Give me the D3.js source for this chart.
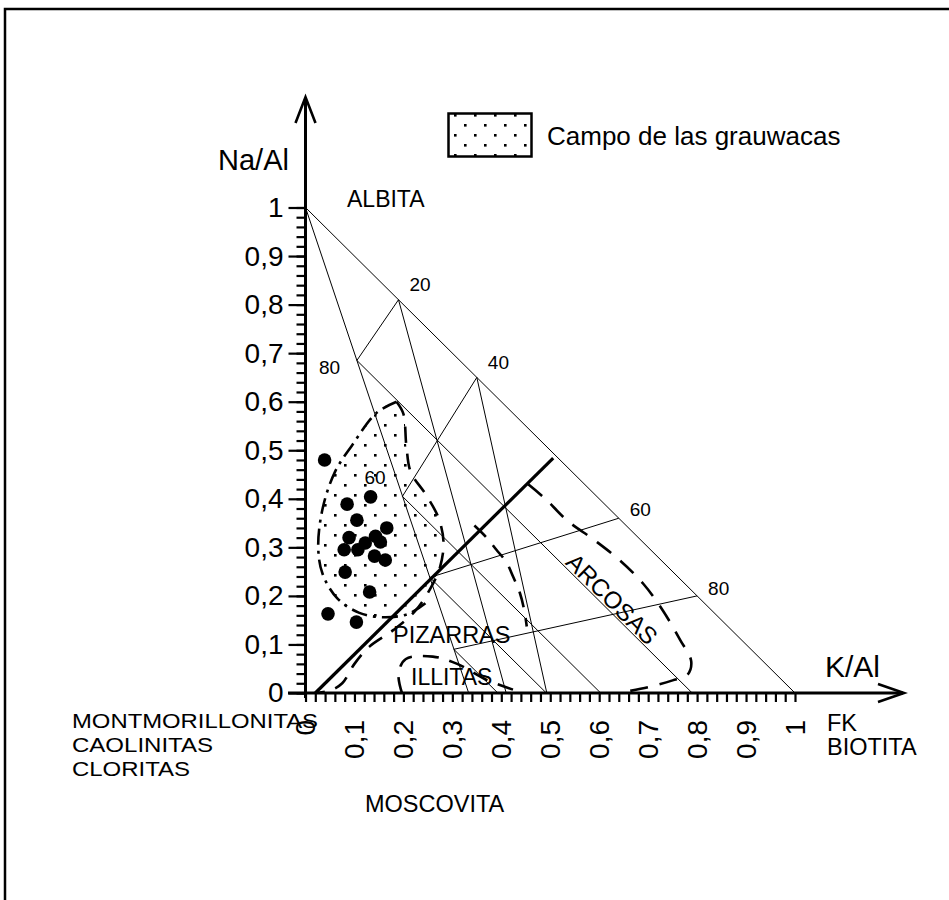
<!DOCTYPE html>
<html>
<head>
<meta charset="utf-8">
<script src="https://cdn.jsdelivr.net/npm/d3@7"></script>
<style>
  body { margin: 0; background: #fff; }
  text { font-family: "Liberation Sans", Arial, Helvetica, sans-serif; fill: #000; }
</style>
</head>
<body>
<div id="chart"></div>
<script>
// axis ticks
const tickValues = d3.range(0, 11).map(i => i / 10);
const tickLabels = ['0', '0,1', '0,2', '0,3', '0,4', '0,5', '0,6', '0,7', '0,8', '0,9', '1'];
const minorTickValues = d3.range(0, 51).map(i => i / 50);

// grid nodes on albita-FK side (labelled 20..80) and on albita-moscovita side
const nodesAF = [[0.19, 0.81], [0.35, 0.65], [0.64, 0.36], [0.80, 0.20]];
const nodesAFLabels = ['20', '40', '60', '80'];
const nodesAM = [[0.105, 0.685], [0.198, 0.405], [0.254, 0.238], [0.303, 0.09]];
const nodesAMLabels = ['80', '60'];

// thin grid segments [x1, y1, x2, y2]
const gridSegments = [
  [0, 1, 1, 0],
  [0, 1, 1 / 3, 0],
  [0.19, 0.81, 0.105, 0.685],
  [0.35, 0.65, 0.198, 0.405],
  [0.64, 0.36, 0.254, 0.238],
  [0.80, 0.20, 0.303, 0.09],
  [0.19, 0.81, 0.41, 0],
  [0.35, 0.65, 0.493, 0],
  [0.105, 0.685, 0.79, 0],
  [0.198, 0.405, 0.603, 0],
  [0.254, 0.238, 0.492, 0],
  [0.303, 0.09, 0.393, 0]
];
// thick separation line
const thickSegment = [0.02, 0, 0.506, 0.484];

// samples (K/Al, Na/Al)
const sampleK = [0.039, 0.085, 0.133, 0.105, 0.166, 0.089, 0.079, 0.107, 0.122, 0.143, 0.153, 0.141, 0.163, 0.081, 0.131, 0.046, 0.104];
const sampleNa = [0.480, 0.389, 0.404, 0.356, 0.340, 0.320, 0.295, 0.295, 0.309, 0.323, 0.311, 0.282, 0.274, 0.249, 0.208, 0.163, 0.146];

// field outlines
const grauwDashDot = [[0.245, 0.185], [0.21, 0.163], [0.16, 0.156], [0.11, 0.165], [0.065, 0.195], [0.035, 0.245], [0.026, 0.30], [0.035, 0.38], [0.06, 0.455], [0.095, 0.51], [0.145, 0.577], [0.186, 0.60]];
const pizarrasDashed = [[0.186, 0.60], [0.2, 0.575], [0.206, 0.51], [0.215, 0.455], [0.245, 0.41], [0.272, 0.36], [0.282, 0.31], [0.275, 0.26], [0.255, 0.215], [0.225, 0.17], [0.18, 0.13], [0.13, 0.095], [0.1, 0.06], [0.075, 0.02], [0.05, 0.005], [0.02, 0]];
const arcosasDashed = [[0.455, 0.43], [0.49, 0.40], [0.535, 0.355], [0.59, 0.315], [0.64, 0.275], [0.69, 0.225], [0.73, 0.17], [0.765, 0.11], [0.788, 0.065], [0.78, 0.037], [0.75, 0.026], [0.70, 0.012], [0.64, 0]];
const innerDashed = [[0.345, 0.345], [0.37, 0.32], [0.39, 0.295], [0.41, 0.27], [0.424, 0.24], [0.438, 0.206], [0.447, 0.17], [0.452, 0.137]];
const illitasDashed = [[0.197, 0], [0.19, 0.04], [0.205, 0.07], [0.26, 0.075], [0.31, 0.06], [0.37, 0.027], [0.445, 0]];

// clay minerals at the origin
const clayNames = ['MONTMORILLONITAS', 'CAOLINITAS', 'CLORITAS'];

const W = 949, H = 900;
const x = d3.scaleLinear().domain([0, 1]).range([305.5, 795]);
const y = d3.scaleLinear().domain([0, 1]).range([693, 207.5]);

const svg = d3.select('#chart').append('svg')
  .attr('width', W)
  .attr('height', H);

// frame
svg.append('path')
  .attr('d', `M5,${H}V9H${W}`)
  .attr('fill', 'none')
  .attr('stroke', '#000')
  .attr('stroke-width', 2.5);

const defs = svg.append('defs');
const pat = defs.append('pattern')
  .attr('id', 'dots')
  .attr('patternUnits', 'userSpaceOnUse')
  .attr('width', 20)
  .attr('height', 20);
pat.append('rect').attr('x', 4).attr('y', 4).attr('width', 2.6).attr('height', 2.6).attr('fill', '#000');
pat.append('rect').attr('x', 14).attr('y', 14).attr('width', 2.6).attr('height', 2.6).attr('fill', '#000');

const line = d3.line()
  .x(d => x(d[0]))
  .y(d => y(d[1]))
  .curve(d3.curveCatmullRom.alpha(0.5));

// dotted grauwacas field
const fieldIdx = pizarrasDashed.findIndex(d => d[0] === 0.255);
svg.append('path')
  .attr('d', line(grauwDashDot.concat(pizarrasDashed.slice(1, fieldIdx + 1))) + 'Z')
  .attr('fill', 'url(#dots)')
  .attr('stroke', 'none');

// thin grid
svg.append('g')
  .selectAll('line')
  .data(gridSegments)
  .join('line')
  .attr('x1', d => x(d[0]))
  .attr('y1', d => y(d[1]))
  .attr('x2', d => x(d[2]))
  .attr('y2', d => y(d[3]))
  .attr('stroke', '#000')
  .attr('stroke-width', 1);

svg.append('line')
  .attr('x1', x(thickSegment[0]))
  .attr('y1', y(thickSegment[1]))
  .attr('x2', x(thickSegment[2]))
  .attr('y2', y(thickSegment[3]))
  .attr('stroke', '#000')
  .attr('stroke-width', 3.2);

// dashed outlines
const dashed = [
  [grauwDashDot, '16,6,3,6'],
  [pizarrasDashed, '16,11'],
  [arcosasDashed, '18,12'],
  [innerDashed, '16,11'],
  [illitasDashed, '16,11']
];
svg.append('g')
  .selectAll('path')
  .data(dashed)
  .join('path')
  .attr('d', d => line(d[0]))
  .attr('fill', 'none')
  .attr('stroke', '#000')
  .attr('stroke-width', 2.6)
  .attr('stroke-dasharray', d => d[1]);

// samples
svg.append('g')
  .selectAll('circle')
  .data(sampleK)
  .join('circle')
  .attr('cx', d => x(d))
  .attr('cy', (d, i) => y(sampleNa[i]))
  .attr('r', 6.8)
  .attr('fill', '#000');

// axes
const yMinor = svg.append('g')
  .attr('transform', `translate(${x(0)},0)`)
  .call(d3.axisLeft(y).tickValues(minorTickValues).tickSize(9).tickFormat(''));
const yMajor = svg.append('g')
  .attr('transform', `translate(${x(0)},0)`)
  .call(d3.axisLeft(y).tickValues(tickValues).tickSize(17).tickPadding(5)
    .tickFormat((d, i) => tickLabels[i]));
const xMinor = svg.append('g')
  .attr('transform', `translate(0,${y(0)})`)
  .call(d3.axisBottom(x).tickValues(minorTickValues).tickSize(9).tickFormat(''));
[yMinor, yMajor, xMinor].forEach(g => {
  g.select('.domain').remove();
  g.selectAll('.tick line').attr('stroke', '#000').attr('stroke-width', 2.2);
});
yMajor.selectAll('.tick text')
  .style('font-family', '"Liberation Sans", Arial, sans-serif')
  .style('font-size', '28px')
  .attr('fill', '#000');

svg.append('g')
  .selectAll('text')
  .data(tickValues)
  .join('text')
  .attr('transform', d => `translate(${x(d)},720) rotate(-90)`)
  .attr('text-anchor', 'end')
  .attr('dy', '0.35em')
  .style('font-size', '28px')
  .text((d, i) => tickLabels[i]);

// axis lines with arrows
svg.append('line')
  .attr('x1', x(0)).attr('y1', y(0) + 5)
  .attr('x2', x(0)).attr('y2', 98)
  .attr('stroke', '#000').attr('stroke-width', 3);
svg.append('path')
  .attr('d', `M${x(0) - 10},123L${x(0)},97L${x(0) + 10},123`)
  .attr('fill', 'none').attr('stroke', '#000').attr('stroke-width', 2.6);
svg.append('line')
  .attr('x1', 288).attr('y1', y(0))
  .attr('x2', 903).attr('y2', y(0))
  .attr('stroke', '#000').attr('stroke-width', 3);
svg.append('path')
  .attr('d', `M878,${y(0) - 9}L904,${y(0)}L878,${y(0) + 9}`)
  .attr('fill', 'none').attr('stroke', '#000').attr('stroke-width', 2.6);

// legend
svg.append('rect')
  .attr('x', 448.5).attr('y', 113.5)
  .attr('width', 83).attr('height', 43)
  .attr('fill', 'url(#dots)')
  .attr('stroke', '#000').attr('stroke-width', 2.5);
svg.append('text')
  .attr('x', 547).attr('y', 145)
  .style('font-size', '26px')
  .text('Campo de las grauwacas');

// annotations
const notes = [
  ['Na/Al', 218, 170, 29],
  ['K/Al', 825, 677, 30],
  ['ALBITA', 347, 207, 23],
  ['PIZARRAS', 393, 643, 23.5],
  ['ILLITAS', 411, 685, 23],
  ['FK', 827, 731, 23.5],
  ['BIOTITA', 827, 755, 23.5],
  ['MOSCOVITA', 365, 812, 23.5]
];
svg.append('g')
  .selectAll('text')
  .data(notes)
  .join('text')
  .attr('x', d => d[1])
  .attr('y', d => d[2])
  .style('font-size', d => d[3] + 'px')
  .text(d => d[0]);

// clay names: narrow lettering, stretched to the original widths
const clayWidths = [246, 141, 118];
svg.append('g')
  .selectAll('text')
  .data(clayNames)
  .join('text')
  .attr('x', 72)
  .attr('y', (d, i) => 728 + i * 24)
  .attr('textLength', (d, i) => clayWidths[i])
  .attr('lengthAdjust', 'spacingAndGlyphs')
  .style('font-size', '21px')
  .text(d => d);

// node labels
const afDy = [-9, -8, -2, -1];
svg.append('g')
  .selectAll('text')
  .data(nodesAF)
  .join('text')
  .attr('x', d => x(d[0]) + 11)
  .attr('y', (d, i) => y(d[1]) + afDy[i])
  .style('font-size', '19px')
  .text((d, i) => nodesAFLabels[i]);
svg.append('g')
  .selectAll('text')
  .data(nodesAM.slice(0, 2))
  .join('text')
  .attr('x', (d, i) => x(d[0]) - [38, 38][i])
  .attr('y', (d, i) => y(d[1]) + [14, -12][i])
  .style('font-size', '19px')
  .text((d, i) => nodesAMLabels[i]);

svg.append('text')
  .attr('transform', 'translate(612,599) rotate(45)')
  .attr('text-anchor', 'middle')
  .attr('dy', '0.35em')
  .style('font-size', '24px')
  .text('ARCOSAS');
</script>
</body>
</html>
